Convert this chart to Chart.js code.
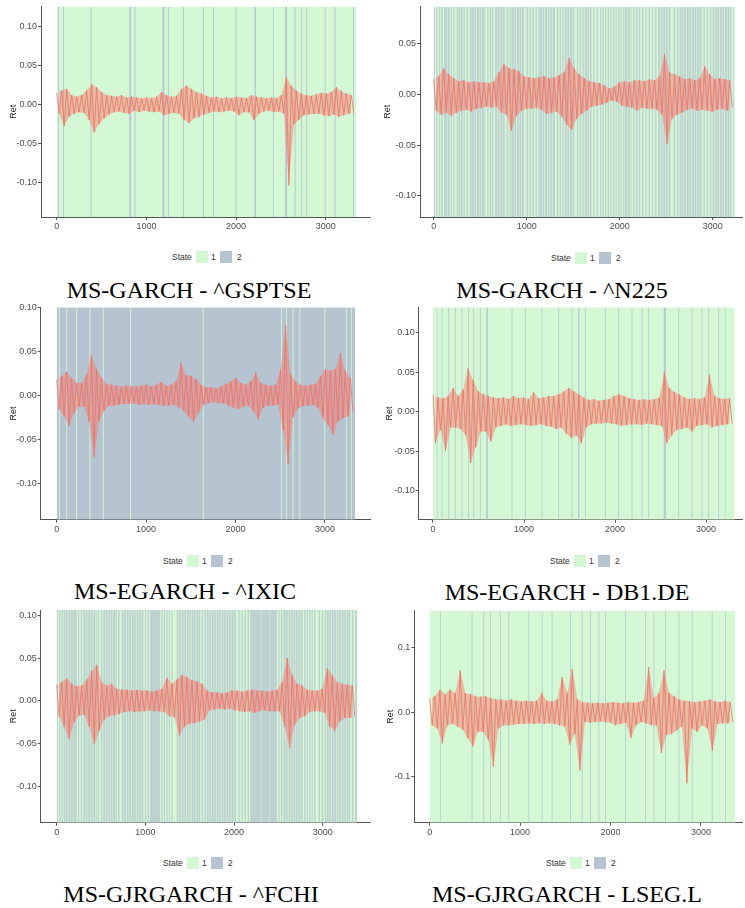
<!DOCTYPE html>
<html><head><meta charset="utf-8">
<script src="https://cdn.jsdelivr.net/npm/chart.js@4.4.1/dist/chart.umd.min.js"></script>
<style>
html,body{margin:0;padding:0;background:#fff;}
#wrap{position:relative;width:745px;height:908px;overflow:hidden;}
canvas{position:absolute;}
.cap{position:absolute;width:320px;text-align:center;font-family:'Liberation Serif','Times New Roman',serif;font-size:24px;line-height:24px;color:#000;white-space:nowrap;}
.leg{position:absolute;height:12px;width:80px;font-family:'Liberation Sans',Arial,sans-serif;font-size:8.5px;color:#333;}
.leg span{position:absolute;top:0;line-height:12px;}
.leg i{position:absolute;top:0;width:12px;height:12px;}
</style></head><body><div id="wrap"></div>
<script>
// ---------- data ----------
const xTicks = [0, 1000, 2000, 3000];
const yTicksA = [-0.10, -0.05, 0, 0.05, 0.10];
const yLabelsA = ['-0.10', '-0.05', '0.00', '0.05', '0.10'];
const yTicksB = [-0.10, -0.05, 0, 0.05];
const yLabelsB = ['-0.10', '-0.05', '0.00', '0.05'];
const yTicksC = [-0.1, 0, 0.1];
const yLabelsC = ['-0.1', '0.0', '0.1'];
const stateNames = ['1', '2'];
const captions = ['MS-GARCH - ^GSPTSE', 'MS-GARCH - ^N225', 'MS-EGARCH - ^IXIC',
                  'MS-EGARCH - DB1.DE', 'MS-GJRGARCH - ^FCHI', 'MS-GJRGARCH - LSEG.L'];
const nObs = [3340, 3237, 3340, 3315, 3389, 3380];

// return envelopes (upper / lower swings per block of observations)
const hi1 = [.015,.018,.020,.012,.010,.012,.018,.026,.022,.016,.012,.011,.010,.012,.009,.010,.009,.008,.009,.008,.010,.016,.012,.010,.011,.020,.024,.020,.016,.014,.011,.009,.010,.008,.009,.008,.010,.009,.008,.012,.010,.009,.008,.009,.008,.012,.035,.024,.018,.014,.012,.011,.013,.015,.014,.016,.022,.017,.014,.012];
const lo1 = [-.012,-.028,-.016,-.012,-.010,-.011,-.020,-.036,-.025,-.018,-.013,-.010,-.009,-.011,-.012,-.008,-.010,-.008,-.009,-.010,-.009,-.014,-.012,-.011,-.012,-.020,-.024,-.018,-.016,-.013,-.011,-.009,-.010,-.009,-.008,-.009,-.014,-.010,-.010,-.020,-.012,-.009,-.008,-.010,-.009,-.012,-.104,-.026,-.020,-.014,-.013,-.012,-.012,-.014,-.015,-.013,-.016,-.014,-.012,-.011];
const hi2 = [.015,.018,.026,.020,.016,.013,.014,.012,.013,.012,.012,.011,.013,.022,.030,.026,.025,.023,.018,.017,.016,.017,.018,.016,.017,.019,.022,.036,.026,.020,.016,.013,.012,.011,.009,.006,.008,.012,.013,.012,.014,.014,.013,.015,.014,.018,.040,.022,.020,.018,.015,.016,.014,.016,.028,.020,.015,.016,.015,.014];
const lo2 = [-.016,-.020,-.018,-.021,-.018,-.016,-.015,-.017,-.014,-.013,-.012,-.013,-.012,-.018,-.020,-.036,-.021,-.016,-.014,-.014,-.013,-.015,-.019,-.018,-.017,-.022,-.030,-.035,-.024,-.019,-.016,-.012,-.011,-.010,-.008,-.006,-.007,-.011,-.012,-.013,-.016,-.013,-.014,-.014,-.015,-.020,-.049,-.024,-.020,-.018,-.015,-.014,-.016,-.015,-.016,-.017,-.015,-.014,-.016,-.013];
const hi3 = [.018,.022,.027,.020,.014,.014,.024,.046,.030,.020,.013,.012,.011,.010,.011,.010,.010,.011,.012,.010,.012,.015,.011,.012,.016,.037,.023,.022,.018,.012,.009,.009,.008,.010,.013,.016,.020,.014,.012,.016,.026,.014,.012,.011,.012,.030,.080,.024,.016,.012,.011,.012,.013,.022,.030,.028,.030,.048,.028,.020];
const lo3 = [-.016,-.024,-.035,-.020,-.013,-.013,-.030,-.070,-.030,-.018,-.012,-.012,-.011,-.010,-.010,-.009,-.011,-.010,-.011,-.010,-.011,-.012,-.012,-.011,-.014,-.018,-.024,-.030,-.020,-.011,-.009,-.008,-.009,-.009,-.012,-.014,-.016,-.013,-.012,-.018,-.028,-.014,-.012,-.012,-.011,-.040,-.078,-.025,-.015,-.012,-.012,-.011,-.014,-.026,-.034,-.045,-.030,-.026,-.024,-.018];
const hi4 = [.022,.018,.017,.020,.030,.020,.028,.055,.040,.026,.022,.020,.018,.017,.018,.016,.020,.017,.018,.016,.025,.017,.018,.020,.020,.022,.026,.030,.026,.022,.018,.015,.016,.014,.015,.016,.020,.022,.020,.017,.016,.015,.016,.015,.016,.018,.050,.030,.025,.022,.018,.016,.017,.016,.018,.047,.020,.017,.016,.017];
const lo4 = [-.040,-.023,-.050,-.020,-.020,-.022,-.030,-.065,-.045,-.025,-.025,-.038,-.020,-.018,-.016,-.018,-.017,-.016,-.017,-.018,-.017,-.016,-.018,-.019,-.022,-.020,-.028,-.033,-.030,-.040,-.020,-.016,-.015,-.015,-.014,-.015,-.016,-.018,-.017,-.016,-.016,-.017,-.015,-.016,-.017,-.018,-.040,-.030,-.023,-.022,-.020,-.025,-.018,-.017,-.016,-.020,-.018,-.017,-.016,-.015];
const hi5 = [.019,.022,.026,.020,.017,.018,.025,.035,.042,.022,.018,.020,.014,.013,.013,.012,.013,.012,.012,.011,.012,.014,.027,.020,.025,.030,.028,.024,.023,.020,.012,.010,.010,.009,.010,.012,.012,.011,.012,.013,.012,.012,.011,.012,.013,.022,.050,.030,.020,.018,.013,.012,.012,.014,.038,.030,.022,.020,.019,.018];
const lo5 = [-.018,-.030,-.045,-.025,-.017,-.016,-.030,-.050,-.035,-.022,-.018,-.017,-.015,-.013,-.012,-.013,-.012,-.012,-.011,-.012,-.012,-.013,-.018,-.019,-.040,-.030,-.027,-.026,-.024,-.022,-.011,-.010,-.009,-.010,-.009,-.011,-.012,-.013,-.012,-.014,-.012,-.011,-.012,-.012,-.012,-.030,-.055,-.028,-.020,-.018,-.013,-.012,-.012,-.014,-.030,-.035,-.024,-.020,-.020,-.018];
const hi6 = [.022,.025,.035,.028,.035,.030,.065,.030,.028,.025,.024,.025,.022,.020,.020,.018,.020,.018,.017,.018,.017,.018,.030,.018,.017,.020,.055,.030,.067,.020,.016,.015,.014,.015,.014,.015,.016,.015,.014,.016,.015,.016,.018,.070,.022,.030,.065,.030,.025,.020,.018,.017,.016,.017,.018,.020,.017,.016,.018,.016];
const lo6 = [-.020,-.025,-.048,-.020,-.018,-.022,-.027,-.040,-.053,-.030,-.030,-.043,-.084,-.025,-.020,-.020,-.019,-.018,-.018,-.017,-.018,-.017,-.018,-.017,-.018,-.020,-.022,-.050,-.033,-.090,-.015,-.016,-.015,-.014,-.015,-.016,-.020,-.018,-.016,-.040,-.020,-.015,-.017,-.020,-.020,-.063,-.035,-.033,-.028,-.022,-.110,-.025,-.030,-.020,-.025,-.060,-.018,-.017,-.017,-.015];

// regime of the whole sample (base) and the runs spent in the other regime [start, end]
const baseState = [1, 1, 2, 1, 1, 1];
const runs1 = [[14,24],[70,80],[378,388],[810,830],[868,878],[1180,1200],[1240,1250],[1408,1418],[1631,1641],[1742,1752],[1995,2005],[2205,2220],[2411,2421],[2548,2568],[2653,2663],[2727,2737],[2783,2793],[2988,2998],[3099,3109],[3304,3314]];
const runs2 = [[0,14],[27,41],[57,70],[84,99],[112,142],[150,171],[184,197],[212,226],[245,258],[265,286],[293,312],[321,336],[356,370],[390,404],[408,429],[436,455],[464,485],[492,511],[520,541],[546,556],[575,590],[605,620],[628,642],[659,680],[687,706],[715,736],[743,763],[785,800],[815,830],[838,859],[866,885],[894,915],[922,941],[950,971],[1000,1015],[1030,1045],[1062,1077],[1095,1110],[1125,1140],[1142,1163],[1170,1189],[1198,1219],[1226,1245],[1254,1275],[1282,1302],[1325,1340],[1355,1370],[1385,1400],[1410,1431],[1438,1457],[1466,1487],[1494,1514],[1540,1555],[1570,1585],[1600,1615],[1625,1646],[1653,1672],[1681,1697],[1715,1730],[1750,1765],[1786,1800],[1814,1829],[1842,1855],[1870,1885],[1898,1911],[1926,1941],[1954,1967],[1982,1997],[2010,2023],[2038,2052],[2060,2081],[2088,2107],[2116,2127],[2145,2160],[2175,2190],[2205,2220],[2240,2255],[2275,2290],[2310,2325],[2345,2360],[2380,2395],[2413,2434],[2441,2460],[2469,2490],[2497,2516],[2525,2545],[2580,2595],[2615,2630],[2645,2658],[2664,2685],[2692,2711],[2720,2741],[2748,2767],[2776,2797],[2804,2823],[2832,2853],[2860,2879],[2900,2915],[2935,2950],[2970,2985],[3000,3014],[3021,3042],[3049,3068],[3077,3098],[3105,3124],[3133,3154],[3161,3180],[3189,3200],[3220,3232]];
const runs3 = [[25,35],[107,117],[218,228],[367,377],[516,526],[822,832],[1634,1644],[2509,2519],[2565,2575],[2639,2649],[2714,2724],[2993,3003],[3235,3245],[3291,3301]];
const runs4 = [[40,50],[94,104],[167,177],[240,250],[314,324],[387,397],[442,452],[515,525],[585,605],[863,873],[1010,1020],[1193,1203],[1376,1386],[1522,1532],[1593,1609],[1669,1679],[1889,1899],[2035,2045],[2182,2192],[2292,2302],[2365,2375],[2535,2560],[2695,2705],[2841,2851],[2951,2961],[3024,3034],[3134,3144],[3207,3217]];
const runs5 = [[0,14],[28,43],[56,70],[78,99],[106,125],[134,155],[162,182],[188,226],[240,255],[272,287],[301,322],[329,348],[357,378],[385,404],[413,434],[441,451],[462,476],[498,514],[526,547],[554,573],[582,603],[610,629],[638,659],[664,677],[692,708],[733,754],[761,780],[789,810],[817,836],[845,866],[873,892],[901,922],[929,948],[957,977],[994,1009],[1024,1040],[1053,1166],[1180,1195],[1208,1221],[1236,1251],[1264,1277],[1292,1306],[1354,1375],[1382,1401],[1410,1431],[1438,1457],[1466,1487],[1494,1513],[1522,1543],[1550,1569],[1578,1599],[1604,1617],[1634,1649],[1664,1680],[1692,1713],[1720,1739],[1748,1769],[1776,1795],[1804,1825],[1832,1851],[1860,1881],[1888,1907],[1916,1937],[1944,1963],[1972,1993],[2000,2020],[2048,2063],[2083,2098],[2118,2133],[2153,2168],[2181,2300],[2306,2400],[2405,2482],[2498,2513],[2528,2544],[2557,2578],[2585,2604],[2613,2634],[2641,2660],[2669,2690],[2697,2716],[2725,2746],[2753,2773],[2790,2805],[2818,2831],[2846,2861],[2874,2887],[2902,2917],[2952,2968],[2988,3004],[3022,3038],[3046,3067],[3074,3093],[3102,3123],[3130,3149],[3158,3179],[3186,3205],[3214,3235],[3242,3261],[3270,3291],[3296,3309],[3328,3344],[3365,3389]];
const runs6 = [[113,123],[464,474],[593,603],[667,677],[777,787],[870,880],[1091,1101],[1239,1249],[1349,1359],[1552,1562],[1681,1691],[1774,1784],[1866,1876],[1940,1950],[2161,2171],[2382,2392],[2475,2485],[2604,2614],[2751,2761],[2899,2909],[3120,3130],[3268,3278]];

// ---------- layout / style (not data) ----------
const STATE_RGB = {1: [212, 248, 212], 2: [181, 196, 208]};
const rgba = (c, a) => 'rgba(' + c[0] + ',' + c[1] + ',' + c[2] + ',' + a + ')';
const RET_LINE = 'rgba(244,112,100,0.8)';
const RET_FILL = 'rgba(248,118,109,0.45)';
// runA: opacity of the thin regime runs (sub-pixel switching blends on screen)
const layout = [
  {L:0,   T:0,   W:372, H:240, pt:5,   pr:2,   yw:41,   xh:23,   xmin:-175, xmax:3493, ymin:-0.1447, ymax:0.126,  tp:8.4,  runA:1,    capX:189, capY:298,   legX:172, legY:257},
  {L:372, T:0,   W:373, H:240, pt:5,   pr:2.3, yw:48,   xh:23,   xmin:-147, xmax:3322, ymin:-0.121,  ymax:0.087,  tp:10.2, runA:0.72, capX:562, capY:298,   legX:551, legY:257.5},
  {L:0,   T:300, W:372, H:243, pt:7.3, pr:1.3, yw:40.7, xh:23.3, xmin:-179, xmax:3512, ymin:-0.1414, ymax:0.1,    tp:8.4,  runA:1,    capX:185, capY:599,   legX:163, legY:560.7},
  {L:372, T:300, W:373, H:243, pt:7.3, pr:2.3, yw:46.7, xh:23.3, xmin:-157, xmax:3403, ymin:-0.137,  ymax:0.1325, tp:12.2, runA:0.85, capX:567, capY:599.7, legX:550, legY:560.7},
  {L:0,   T:603, W:372, H:243, pt:7,   pr:1.3, yw:40.7, xh:23.3, xmin:-180, xmax:3540, ymin:-0.142,  ymax:0.106,  tp:8.4,  runA:0.75, capX:191, capY:901.5, legX:163, legY:863.3},
  {L:372, T:603, W:373, H:243, pt:7.7, pr:2.3, yw:42.3, xh:23.3, xmin:-170, xmax:3462, ymin:-0.171,  ymax:0.1575, tp:13.6, runA:0.85, capX:567, capY:901.5, legX:546, legY:863.3}
];
const series = [
  {hi:hi1, lo:lo1, runs:runs1, yT:yTicksA, yL:yLabelsA},
  {hi:hi2, lo:lo2, runs:runs2, yT:yTicksB, yL:yLabelsB},
  {hi:hi3, lo:lo3, runs:runs3, yT:yTicksA, yL:yLabelsA},
  {hi:hi4, lo:lo4, runs:runs4, yT:yTicksA, yL:yLabelsA},
  {hi:hi5, lo:lo5, runs:runs5, yT:yTicksA, yL:yLabelsA},
  {hi:hi6, lo:lo6, runs:runs6, yT:yTicksC, yL:yLabelsC}
];

const FONT = "'Liberation Sans', Arial, sans-serif";
const wrap = document.getElementById('wrap');

function zigPoints(hi, lo, n) {
  const w = n / hi.length, pts = [];
  for (let i = 0; i < hi.length; i++) {
    pts.push({x: i * w, y: hi[i]});
    pts.push({x: (i + 0.5) * w, y: lo[i]});
  }
  return pts;
}
function envPoints(vals, n, off) {
  const w = n / vals.length;
  return vals.map((v, i) => ({x: (i + off) * w, y: v}));
}
function runPoints(runs, top, bot) {
  const pts = [];
  runs.forEach(([s, e]) => { pts.push({x: s, y: top}); pts.push({x: e, y: bot}); });
  return pts;
}

series.forEach((s, k) => {
  const g = layout[k], n = nObs[k];
  const base = baseState[k], other = base === 1 ? 2 : 1;
  const cv = document.createElement('canvas');
  cv.width = g.W; cv.height = g.H;
  cv.style.left = g.L + 'px'; cv.style.top = g.T + 'px';
  cv.style.width = g.W + 'px'; cv.style.height = g.H + 'px';
  wrap.appendChild(cv);

  const bandCommon = {type: 'line', stepped: true, borderWidth: 0, borderColor: 'rgba(0,0,0,0)',
                      pointRadius: 0, fill: 'start', tension: 0};
  new Chart(cv.getContext('2d'), {
    type: 'line',
    data: {
      datasets: [
        {type: 'line', label: 'Ret', data: zigPoints(s.hi, s.lo, n), borderColor: RET_LINE,
         borderWidth: 1, pointRadius: 0, fill: false, tension: 0, order: 0},
        {type: 'line', label: 'Ret high', data: envPoints(s.hi, n, 0), borderColor: 'rgba(0,0,0,0)',
         borderWidth: 0, pointRadius: 0, fill: '+1', backgroundColor: RET_FILL, tension: 0, order: 1},
        {type: 'line', label: 'Ret low', data: envPoints(s.lo, n, 0.5), borderColor: 'rgba(0,0,0,0)',
         borderWidth: 0, pointRadius: 0, fill: false, tension: 0, order: 1},
        Object.assign({label: 'State ' + stateNames[other - 1], data: runPoints(s.runs, g.ymax, g.ymin),
          backgroundColor: rgba(STATE_RGB[other], g.runA), order: 2}, bandCommon),
        Object.assign({label: 'State ' + stateNames[base - 1], data: runPoints([[0, n]], g.ymax, g.ymin),
          backgroundColor: rgba(STATE_RGB[base], 1), order: 3}, bandCommon)
      ]
    },
    options: {
      responsive: false, animation: false, devicePixelRatio: 1, events: [],
      layout: {padding: {left: 0, right: g.pr, top: g.pt, bottom: 0}},
      plugins: {legend: {display: false}, tooltip: {enabled: false}},
      scales: {
        x: {
          type: 'linear', min: g.xmin, max: g.xmax,
          afterBuildTicks: ax => { ax.ticks = xTicks.map(v => ({value: v})); },
          afterFit: ax => { ax.height = g.xh; },
          ticks: {autoSkip: false, maxRotation: 0, padding: 1, color: '#4d4d4d',
                  font: {family: FONT, size: 9}, callback: v => String(v)},
          grid: {drawOnChartArea: false, drawTicks: true, tickLength: 3, color: '#555', lineWidth: 1},
          border: {display: true, color: '#555', width: 1}
        },
        y: {
          type: 'linear', min: g.ymin, max: g.ymax,
          afterBuildTicks: ax => { ax.ticks = s.yT.map(v => ({value: v})); },
          afterFit: ax => { ax.width = g.yw; },
          ticks: {autoSkip: false, padding: 1, color: '#4d4d4d', font: {family: FONT, size: 9},
                  callback: v => { const i = s.yT.findIndex(t => Math.abs(t - v) < 1e-9); return i >= 0 ? s.yL[i] : ''; }},
          grid: {drawOnChartArea: false, drawTicks: true, tickLength: 3, color: '#555', lineWidth: 1},
          border: {display: true, color: '#555', width: 1},
          title: {display: true, text: 'Ret', color: '#222', font: {family: FONT, size: 9},
                  padding: {top: g.tp, bottom: 0}}
        }
      }
    }
  });

  // legend
  const lg = document.createElement('div');
  lg.className = 'leg';
  lg.style.left = g.legX + 'px'; lg.style.top = (g.legY - 6) + 'px';
  lg.innerHTML = '<span style="left:0">State</span>' +
    '<i style="left:24px;background:' + rgba(STATE_RGB[1], 1) + '"></i><span style="left:39px">' + stateNames[0] + '</span>' +
    '<i style="left:48px;background:' + rgba(STATE_RGB[2], 1) + '"></i><span style="left:65px">' + stateNames[1] + '</span>';
  wrap.appendChild(lg);

  // caption
  const cp = document.createElement('div');
  cp.className = 'cap';
  cp.textContent = captions[k];
  cp.style.left = (g.capX - 160) + 'px';
  cp.style.top = (g.capY - 20) + 'px';
  wrap.appendChild(cp);
});
</script>
</body></html>
